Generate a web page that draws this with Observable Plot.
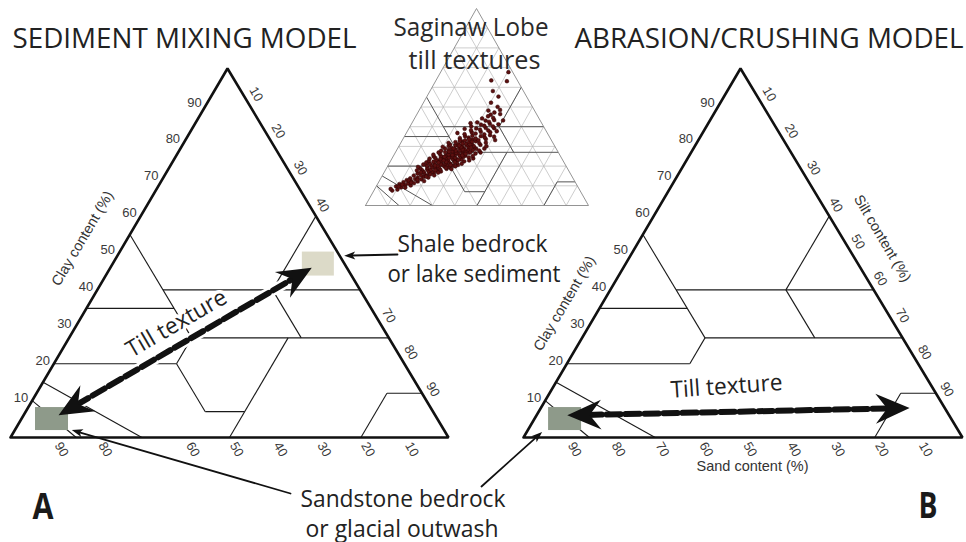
<!DOCTYPE html>
<html>
<head>
<meta charset="utf-8">
<script src="https://cdn.jsdelivr.net/npm/d3@7"></script>
<script src="https://cdn.jsdelivr.net/npm/@observablehq/plot@0.6"></script>
<style>
  body { margin: 0; background: #fff; }
  #chart svg { display: block; }
</style>
</head>
<body>
<div id="chart"></div>
<script>
// ---------- data: all compositions are [sand, silt, clay] in percent ----------
const tickValues = [10, 20, 30, 40, 50, 60, 70, 80, 90];
const clayTicksA = [10, 20, 30, 40, 50, 60, 70, 80, 90];
const siltTicksA = [10, 20, 30, 40, 70, 80, 90];
const sandTicksA = [90, 80, 60, 50, 40, 30, 20, 10];
const clayTicksB = [10, 20, 30, 40, 50, 60, 70, 80, 90];
const siltTicksB = [10, 20, 30, 40, 50, 60, 70, 80, 90];
const sandTicksB = [90, 80, 70, 60, 50, 40, 30, 20, 10];

// USDA texture-class boundaries (end points of each segment)
const classLines = [
  [[45, 0, 55], [45, 28, 27]],
  [[65, 0, 35], [45, 20, 35]],
  [[45, 15, 40], [0, 60, 40]],
  [[0, 40, 60], [20, 40, 40]],
  [[20, 40, 40], [20, 53, 27]],
  [[45, 28, 27], [0, 73, 27]],
  [[80, 0, 20], [52, 28, 20]],
  [[52, 28, 20], [45, 28, 27]],
  [[20, 80, 0], [8, 80, 12]],
  [[8, 80, 12], [0, 88, 12]],
  [[85, 0, 15], [70, 30, 0]],
  [[90, 0, 10], [85, 15, 0]]
];
// loam-class limits
const loamLines = [
  [[52, 28, 20], [52, 41, 7]],
  [[52, 41, 7], [43, 50, 7]],
  [[50, 50, 0], [23, 50, 27]]
];

// Saginaw Lobe till samples: [clay, silt]
const saginawTill = [
  [7.6, 8.2], [8.4, 7.1], [8.1, 10.3], [9.2, 11.4], [9.7, 8.9], [10.3, 12.6], [10.9, 9.8], [11.2, 13.5],
  [11.8, 11.2], [12.3, 14.4], [12.9, 12.1], [13.4, 15.6], [12.2, 17.3], [13.8, 13.2], [14.1, 16.4], [14.5, 18.7],
  [15.2, 14.1], [15.4, 17.2], [15.1, 19.6], [13.3, 18.4], [11.4, 16.1], [16.2, 15.3], [16.4, 18.2], [16.1, 20.5],
  [16.6, 22.4], [10.2, 15.2], [9.1, 13.3], [14.2, 21.1], [15.3, 23.2], [12.4, 20.1],
  [17.2, 17.4], [17.4, 19.6], [17.1, 21.3], [17.6, 23.5], [17.3, 25.2],
  [18.1, 16.2], [18.4, 18.5], [18.2, 20.3], [18.7, 22.1], [18.3, 24.4], [18.6, 27.1],
  [19.2, 18.3], [19.5, 20.1], [19.1, 21.7], [19.4, 23.2], [19.8, 25.5], [19.3, 28.2],
  [20.2, 17.4], [20.5, 19.2], [20.1, 22.3], [20.7, 24.1], [20.4, 26.4], [20.2, 29.3], [20.6, 31.2],
  [21.3, 18.2], [21.1, 20.6], [21.6, 23.1], [21.4, 25.3], [21.2, 27.5], [21.7, 30.2],
  [22.2, 19.4], [22.5, 21.2], [22.1, 22.6], [22.6, 24.3], [22.3, 26.1], [22.8, 28.4], [22.4, 33.1],
  [23.1, 20.3], [23.4, 23.2], [23.2, 25.4], [23.7, 27.2], [23.5, 29.1], [23.3, 31.4],
  [24.2, 19.2], [24.5, 22.3], [24.1, 24.2], [24.6, 26.4], [24.3, 28.1], [24.8, 30.2], [24.4, 34.2],
  [25.1, 21.3], [25.4, 23.4], [25.2, 25.1], [25.7, 27.3], [25.5, 29.4], [25.3, 32.2],
  [26.2, 20.4], [26.5, 24.1], [26.1, 26.3], [26.6, 28.2], [26.3, 30.4], [26.8, 33.1], [26.4, 36.2],
  [27.1, 22.2], [27.4, 25.3], [27.2, 27.1], [27.7, 29.4], [27.5, 31.2],
  [28.2, 23.3], [28.5, 26.1], [28.1, 28.4], [28.6, 30.2], [28.3, 32.1], [28.8, 35.3],
  [29.1, 24.2], [29.4, 27.3], [29.2, 29.2], [29.7, 31.4], [29.5, 34.1],
  [30.2, 22.3], [30.5, 25.2], [30.1, 28.3], [30.6, 30.1], [30.3, 33.4], [30.8, 36.2],
  [31.1, 26.2], [31.4, 29.4], [31.2, 32.1], [31.7, 35.2],
  [32.2, 24.3], [32.5, 27.1], [32.1, 30.4], [32.6, 33.2],
  [33.1, 28.2], [33.4, 31.3], [33.2, 34.1], [33.7, 37.2],
  [34.2, 25.3], [34.5, 29.1], [34.1, 32.4], [34.6, 36.2],
  [35.1, 27.2], [35.4, 30.3], [35.2, 34.2], [35.7, 38.1],
  [36.2, 26.4], [36.5, 31.2], [36.1, 35.3],
  [37.1, 29.2], [37.4, 33.1], [37.2, 37.4], [37.7, 40.1],
  [38.2, 28.3], [38.5, 32.2], [38.1, 36.1],
  [39.1, 30.2], [39.4, 34.3], [39.2, 38.2],
  [40.2, 27.4], [40.5, 33.1], [40.1, 37.2],
  [41.1, 31.3], [41.4, 35.2], [41.2, 39.1],
  [42.2, 29.1], [42.5, 34.2],
  [43.1, 32.4], [43.4, 36.1], [43.2, 40.2],
  [44.2, 30.3], [44.5, 35.1],
  [46.1, 33.2], [46.4, 37.3],
  [48.2, 31.1], [48.5, 36.2],
  [50.1, 34.3],
  [17.8, 14.2], [18.9, 15.1], [19.6, 13.8], [20.8, 15.6], [21.9, 16.4], [22.7, 17.1], [23.8, 16.9], [24.9, 18.2],
  [25.8, 17.6], [26.9, 19.4], [27.8, 20.1], [28.9, 21.3], [29.8, 19.8], [30.9, 22.6], [31.8, 21.4],
  [18.5, 29.3], [19.9, 30.4], [21.2, 32.6], [22.9, 35.1], [23.9, 36.4], [25.2, 35.6], [26.9, 38.2], [27.9, 37.1],
  [28.9, 38.9], [30.1, 39.2], [31.9, 38.1],
  [20.3, 21.1], [20.9, 23.3], [21.8, 21.9], [22.1, 25.2], [22.9, 23.6], [23.6, 21.8], [24.3, 25.3], [24.7, 23.1],
  [25.6, 26.2], [25.9, 24.4], [26.7, 27.4], [27.3, 23.9], [27.9, 26.6], [28.4, 29.4], [28.9, 25.1], [29.6, 28.1],
  [30.4, 26.9], [30.9, 31.6], [31.5, 27.8], [32.4, 31.6], [32.9, 25.9], [33.6, 29.7],
  [19.1, 26.6], [20.6, 27.9], [21.9, 29.2], [23.1, 30.1], [24.6, 31.6], [25.4, 30.8], [26.2, 31.9], [27.1, 33.6],
  [28.1, 34.1], [29.3, 32.6],
  [16.9, 16.4], [17.9, 22.4], [16.7, 24.3], [15.8, 21.2], [14.7, 19.9], [13.1, 16.8], [12.7, 13.1], [11.6, 14.7],
  [10.6, 11.2], [9.6, 10.1],
  [36.8, 22.9], [38.9, 25.1], [34.9, 40.3], [41.8, 26.3], [45.3, 32.4], [47.2, 34.3], [33.2, 41.6],
  [67.7, 30.4], [63.1, 32.0], [63.5, 24.8], [55.3, 32.1], [52.2, 30.3], [58.1, 28.2]
];

// end members and till-texture trends
const sandstone = [88, 7, 5];
const shale = [6, 47, 47];
const tillTrendA = [[86, 8, 6], [8, 46, 46]];
const tillTrendB = [[87, 7, 6], [8, 84, 8]];

// ---------- layout ----------
const frames = {
  A: {bl: [10, 437], br: [448, 437], top: [227, 68]},
  B: {bl: [523, 437], br: [962, 437], top: [740, 68]},
  S: {bl: [365, 205], br: [588, 205], top: [476, 8]}
};

function proj(f, [s, si, c]) {
  const t = s + si + c;
  return [
    (f.bl[0] * s + f.br[0] * si + f.top[0] * c) / t,
    (f.bl[1] * s + f.br[1] * si + f.top[1] * c) / t
  ];
}
function unit(a, b) {
  const dx = b[0] - a[0], dy = b[1] - a[1], L = Math.hypot(dx, dy);
  return [dx / L, dy / L];
}
const segs = (f, lines) => lines.map(([a, b]) => {
  const [x1, y1] = proj(f, a), [x2, y2] = proj(f, b);
  return {x1, y1, x2, y2};
});
const outline = f => [[100, 0, 0], [0, 100, 0], [0, 0, 100], [100, 0, 0]].map(p => proj(f, p));

// inset 10 % grid
const gridLines = tickValues.flatMap(k => [
  [[100 - k, 0, k], [0, 100 - k, k]],
  [[k, 100 - k, 0], [k, 0, 100 - k]],
  [[100 - k, k, 0], [0, k, 100 - k]]
]);

// tick labels
function clayLabels(f, ticks) {
  return ticks.map(k => { const [x, y] = proj(f, [100 - k, 0, k]); return {x: x - 4, y: y - 3, text: String(k)}; });
}
function siltLabels(f, ticks) {
  const u = unit(f.bl, f.top);
  return ticks.map(k => { const [x, y] = proj(f, [0, k, 100 - k]); return {x: x + u[0] * 13, y: y + u[1] * 13, text: String(k)}; });
}
function sandLabels(f, ticks) {
  const v = unit(f.top, f.br);
  return ticks.map(k => { const [x, y] = proj(f, [k, 100 - k, 0]); return {x: x + v[0] * 14, y: y + v[1] * 14, text: String(k)}; });
}

// arrowhead symbols (tip at the origin, pointing along +x)
const headSymbol = (len, wid, notch) => ({
  draw(ctx) {
    ctx.moveTo(0, 0);
    ctx.lineTo(-len, -wid / 2);
    ctx.lineTo(-len * notch, 0);
    ctx.lineTo(-len, wid / 2);
    ctx.closePath();
  }
});
const bigHead = headSymbol(34, 30, 0.66);
const smallHead = headSymbol(11, 8, 0.75);
const deg = Math.PI / 180;

// double-headed dashed trend arrows
function trendArrow(f, [a, b], id) {
  const p0 = proj(f, a), p1 = proj(f, b), d = unit(p0, p1);
  const inset = 34 * 0.6;
  const shaft = [
    {x: p0[0] + d[0] * inset, y: p0[1] + d[1] * inset, id},
    {x: p1[0] - d[0] * inset, y: p1[1] - d[1] * inset, id}
  ];
  const ang = Math.atan2(d[1], d[0]) / deg;
  const heads = [{x: p1[0], y: p1[1], angle: ang}, {x: p0[0], y: p0[1], angle: ang + 180}];
  return {shaft, heads};
}
const trendA = trendArrow(frames.A, tillTrendA, "A");
const trendB = trendArrow(frames.B, tillTrendB, "B");

// callout leaders: from the label to a point on the diagram
function leader(from, tip, id) {
  const d = unit(from, tip);
  return {
    line: [{x: from[0], y: from[1], id}, {x: tip[0] - d[0] * 8, y: tip[1] - d[1] * 8, id}],
    head: {x: tip[0], y: tip[1], angle: Math.atan2(d[1], d[0]) / deg}
  };
}
const shaleTip = proj(frames.A, [0, 51, 49]);
const leaders = [
  leader([397, 254], [shaleTip[0] + 4, shaleTip[1] - 1], "shale"),
  leader([290, 493], proj(frames.A, [85, 13, 2]), "sandA"),
  leader([481, 486], proj(frames.B, [95, 3.5, 1.5]), "sandB")
];

// end-member boxes
function box(f, comp, w, h, fill) {
  const [x, y] = proj(f, comp);
  return {x1: x - w / 2, x2: x + w / 2, y1: y - h / 2, y2: y + h / 2, fill};
}
const boxes = [
  box(frames.A, sandstone, 33, 23, "#8e9a8a"),
  box(frames.B, sandstone, 33, 23, "#8e9a8a"),
  box(frames.A, shale, 32, 24, "#dcdac8")
];

const samplePts = saginawTill.map(([c, si]) => { const [x, y] = proj(frames.S, [100 - c - si, si, c]); return {x, y}; });

// headings and notes
const sans = "'Open Sans', 'DejaVu Sans', sans-serif";
const headings = [
  {text: "SEDIMENT MIXING MODEL", x: 12, base: 47, size: 28, len: 344},
  {text: "ABRASION/CRUSHING MODEL", x: 574, base: 47, size: 28, len: 389},
  {text: "Saginaw Lobe", x: 393, base: 35, size: 26, len: 155},
  {text: "till textures", x: 408, base: 68, size: 26, len: 132},
  {text: "Shale bedrock", x: 397, base: 251, size: 23, len: 150},
  {text: "or lake sediment", x: 387, base: 281, size: 23, len: 173},
  {text: "Sandstone bedrock", x: 300, base: 506, size: 23, len: 205},
  {text: "or glacial outwash", x: 305, base: 536, size: 23, len: 193}
];
const panelLetters = [
  {text: "A", x: 32, base: 518, len: 21},
  {text: "B", x: 918, base: 517, len: 19}
];
const tillNotes = [
  {text: "Till texture", x: 176, y: 323, rotate: -30, len: 112},
  {text: "Till texture", x: 726, y: 386, rotate: -4, len: 112}
];
const axisTitles = [
  {text: "Clay content (%)", x: 82, y: 238, rotate: -59.5},
  {text: "Clay content (%)", x: 564, y: 303, rotate: -59.5},
  {text: "Silt content (%)", x: 882, y: 238, rotate: 59.5},
  {text: "Sand content (%)", x: 752, y: 466, rotate: 0}
];

const tickFont = "'Liberation Sans', Arial, sans-serif";
const tickStyle = {x: "x", y: "y", text: "text", fontFamily: tickFont, fontSize: 13, fill: "#3a3a3a"};

const chart = Plot.plot({
  width: 966,
  height: 542,
  margin: 0,
  x: {domain: [0, 966], range: [0, 966], axis: null},
  y: {domain: [0, 542], range: [0, 542], axis: null},
  style: {background: "#fff", overflow: "visible"},
  marks: [
    // inset: Saginaw Lobe till textures
    Plot.link(segs(frames.S, gridLines), {x1: "x1", y1: "y1", x2: "x2", y2: "y2", stroke: "#b8b8b8", strokeWidth: 0.7}),
    Plot.link(segs(frames.S, classLines.concat(loamLines)), {x1: "x1", y1: "y1", x2: "x2", y2: "y2", stroke: "#555", strokeWidth: 1}),
    Plot.line(outline(frames.S), {x: d => d[0], y: d => d[1], stroke: "#888", strokeWidth: 0.9}),
    Plot.text(headings.slice(2, 4), {x: "x", y: d => d.base - 0.71 * d.size, text: "text", fontSize: d => d.size, fontFamily: sans, textAnchor: "start", lineAnchor: "top", fill: "#2a2a2a"}),
    Plot.dot(samplePts, {x: "x", y: "y", r: 1.9, fill: "#5c1010", stroke: "#2b0505", strokeWidth: 0.5}),

    // texture triangles
    Plot.link(segs(frames.A, classLines.concat(loamLines)), {x1: "x1", y1: "y1", x2: "x2", y2: "y2", stroke: "#1a1a1a", strokeWidth: 1.1}),
    Plot.link(segs(frames.B, classLines), {x1: "x1", y1: "y1", x2: "x2", y2: "y2", stroke: "#1a1a1a", strokeWidth: 1.1}),
    Plot.line(outline(frames.A), {x: d => d[0], y: d => d[1], stroke: "#111", strokeWidth: 2.6, strokeLinejoin: "miter"}),
    Plot.line(outline(frames.B), {x: d => d[0], y: d => d[1], stroke: "#111", strokeWidth: 2.6, strokeLinejoin: "miter"}),

    // end-member boxes
    Plot.rect(boxes, {x1: "x1", x2: "x2", y1: "y1", y2: "y2", fill: "fill"}),

    // tick labels
    Plot.text(clayLabels(frames.A, clayTicksA), {...tickStyle, textAnchor: "end"}),
    Plot.text(clayLabels(frames.B, clayTicksB), {...tickStyle, textAnchor: "end"}),
    Plot.text(siltLabels(frames.A, siltTicksA), {...tickStyle, rotate: 60}),
    Plot.text(siltLabels(frames.B, siltTicksB), {...tickStyle, rotate: 60}),
    Plot.text(sandLabels(frames.A, sandTicksA), {...tickStyle, rotate: 60}),
    Plot.text(sandLabels(frames.B, sandTicksB), {...tickStyle, rotate: 60}),

    // axis titles
    Plot.text(axisTitles, {x: "x", y: "y", text: "text", rotate: "rotate", fontFamily: tickFont, fontSize: 14.5, fill: "#333"}),

    // till texture notes (white halo masks the class lines beneath)
    Plot.text(tillNotes, {x: "x", y: "y", text: "text", rotate: "rotate", fontFamily: sans, fontSize: 23, fill: "#222", stroke: "#fff", strokeWidth: 7}),

    // dashed till-texture trends, with a white band clearing the lines underneath the mixing trend
    Plot.line(trendA.shaft, {x: "x", y: "y", stroke: "#fff", strokeWidth: 11}),
    Plot.line(trendA.shaft.concat(trendB.shaft), {x: "x", y: "y", z: "id", stroke: "#111", strokeWidth: 6, strokeDasharray: "14,5"}),
    Plot.dot(trendA.heads.concat(trendB.heads), {x: "x", y: "y", rotate: "angle", symbol: bigHead, fill: "#111", stroke: "none"}),

    // callout leaders
    Plot.line(leaders.flatMap(d => d.line), {x: "x", y: "y", z: "id", stroke: "#111", strokeWidth: 1.8}),
    Plot.dot(leaders.map(d => d.head), {x: "x", y: "y", rotate: "angle", symbol: smallHead, fill: "#111", stroke: "none"}),

    // headings, notes, panel letters
    Plot.text([headings[0], headings[1], ...headings.slice(4)], {x: "x", y: d => d.base - 0.71 * d.size, text: "text", fontSize: d => d.size, fontFamily: sans, textAnchor: "start", lineAnchor: "top", fill: "#222"}),
    Plot.text(panelLetters, {x: "x", y: d => d.base - 0.71 * 35, text: "text", fontSize: 35, fontWeight: "bold", fontFamily: sans, textAnchor: "start", lineAnchor: "top", fill: "#1a1a1a"})
  ]
});

document.getElementById("chart").append(chart);

// fit the display type to its set width
const fitWidths = new Map([...headings, ...panelLetters, ...tillNotes].map(d => [d.text, d.len]));
d3.select(chart).selectAll("text").each(function () {
  const len = fitWidths.get(this.textContent);
  if (len) {
    this.setAttribute("textLength", len);
    this.setAttribute("lengthAdjust", "spacingAndGlyphs");
  }
});
</script>
</body>
</html>
